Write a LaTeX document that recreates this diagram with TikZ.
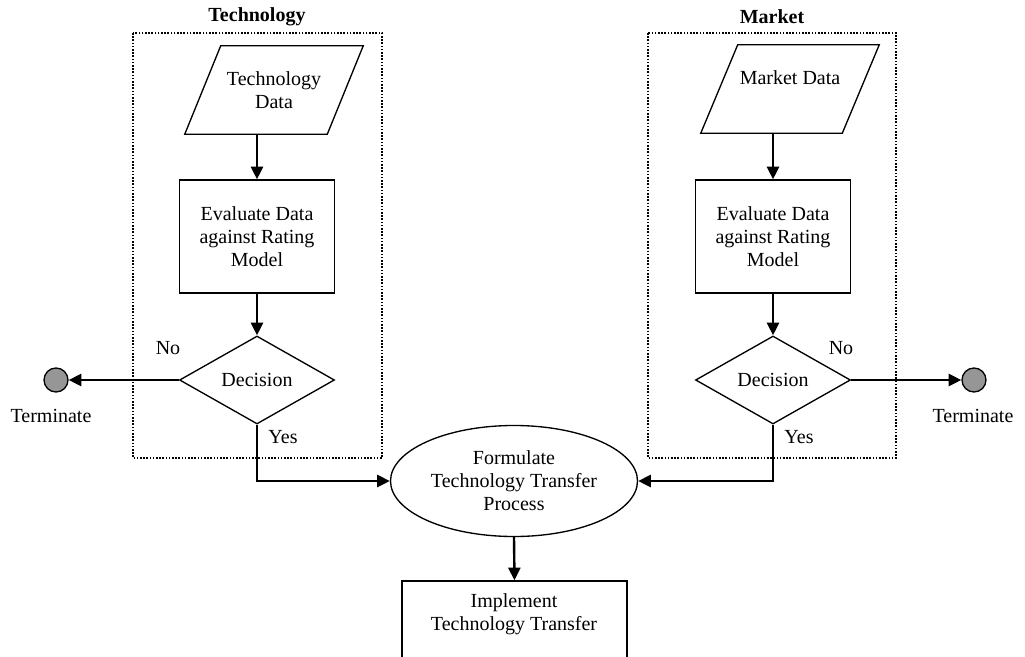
\documentclass[tikz,border=0pt]{standalone}
\usepackage{fontspec}
\setmainfont{Liberation Serif}
\usetikzlibrary{arrows.meta,shapes.geometric,calc}
\tikzset{
  txt/.style={font=\fontsize{15}{17.25}\selectfont, align=center, inner sep=0pt},
  ttl/.style={font=\fontsize{15}{17.25}\selectfont\bfseries, inner sep=0pt},
  shp/.style={draw, line width=1pt},
  procbox/.style={txt, shp, minimum width=155*0.75pt, minimum height=113*0.75pt},
  decbox/.style={txt, shp, diamond, aspect=1.76, minimum width=155*0.75pt, minimum height=88*0.75pt},
  databox/.style={txt, minimum width=178*0.75pt, minimum height=88*0.75pt},
  termdot/.style={circle, draw, line width=1pt, fill={rgb,255:red,150;green,150;blue,150}, minimum size=24*0.75pt, inner sep=0pt},
  grp/.style={line width=1.2pt, dash pattern=on 1.2pt off 1.2pt},
  conn/.style={line width=1.8pt, -{Triangle[length=9.5pt,width=9pt]}},
}
\begin{document}
\begin{tikzpicture}[x=0.75pt,y=-0.75pt]
\useasboundingbox (0,0) rectangle (1025,657);
\clip (0,0) rectangle (1025,657);

% group frames and titles
\draw[grp] (133,33) rectangle (382,458);
\draw[grp] (648,33) rectangle (896,458);
\node[ttl] (ttech) at (257,17) {Technology};
\node[ttl] (tmark) at (772,17) {Market};

% left column
\node[databox] (tdata) at (274,90) {Technology\\Data};
\draw[shp] ($(tdata.north west)+(36,0)$) -- (tdata.north east)
  -- ($(tdata.south east)-(36,0)$) -- (tdata.south west) -- cycle;
\node[procbox] (tev) at (257,236.5) {Evaluate Data\\against Rating\\Model};
\node[decbox] (tdec) at (257,380) {Decision};
\node[termdot] (tterm) at (56,380) {};
\node[txt] (ttermlab) at (51,416) {Terminate};
\node[txt] (tno) at (168,348) {No};
\node[txt] (tyes) at (283,437) {Yes};

% right column
\node[databox] (mdata) at (790,89) {Market Data\\~};
\draw[shp] ($(mdata.north west)+(37,0)$) -- (mdata.north east)
  -- ($(mdata.south east)-(37,0)$) -- (mdata.south west) -- cycle;
\node[procbox] (mev) at (773,236.5) {Evaluate Data\\against Rating\\Model};
\node[decbox] (mdec) at (773,380) {Decision};
\node[termdot] (mterm) at (974,380) {};
\node[txt] (mtermlab) at (973,416) {Terminate};
\node[txt] (mno) at (841,348) {No};
\node[txt] (myes) at (799,437) {Yes};

% centre
\node[txt, shp, ellipse, minimum width=247*0.75pt, minimum height=111*0.75pt] (form) at (514,481)
  {Formulate\\Technology Transfer\\Process};
\node[shp, minimum width=225*0.75pt, minimum height=139*0.75pt, inner sep=0pt] (impl) at (514.5,650.5) {};
\node[txt] (impltxt) at (514,614) {Implement\\Technology Transfer};

% connectors
\draw[conn] (tdata.south -| tev.north) -- (tev.north);
\draw[conn] (tev.south) -- (tdec.north);
\draw[conn] (tdec.west) -- (tterm.east);
\draw[conn] (tdec.south) |- (form.west);

\draw[conn] (mdata.south -| mev.north) -- (mev.north);
\draw[conn] (mev.south) -- (mdec.north);
\draw[conn] (mdec.east) -- (mterm.west);
\draw[conn] (mdec.south) |- (form.east);

\draw[conn] (form.south) -- (impl.north);
\end{tikzpicture}
\end{document}
